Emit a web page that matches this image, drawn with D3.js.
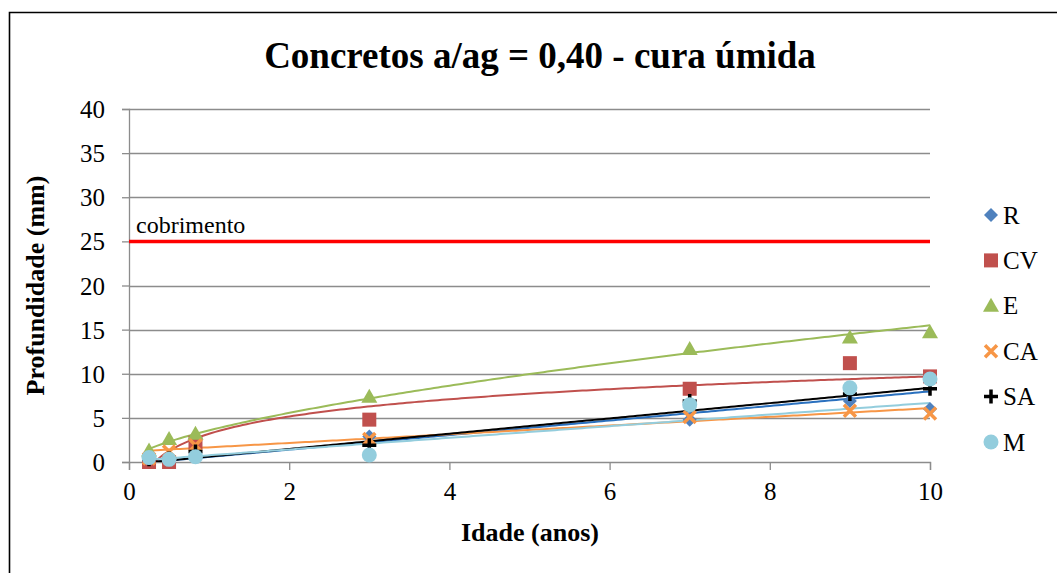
<!DOCTYPE html>
<html>
<head>
<meta charset="utf-8">
<script src="https://cdn.jsdelivr.net/npm/d3@7"></script>
<style>
  html, body { margin: 0; padding: 0; background: #fff; }
  svg { display: block; }
  text { font-family: "Liberation Serif", serif; fill: #000; }
</style>
</head>
<body>
<svg id="chart" width="1057" height="573"></svg>
<script>
// Carbonation depth (mm) per concrete, by age (years)
const idade = [0.25, 0.5, 0.83, 3, 7, 9, 10];
const seriesNames = ["R", "CV", "E", "CA", "SA", "M"];
const valR  = [0.2, 0.3, 1.0, 2.9, 4.8, 6.9, 6.0];
const valCV = [0.0, 0.0, 2.2, 4.8, 8.3, 11.2, 9.7];
const valE  = [1.3, 2.6, 3.2, 7.4, 12.8, 14.1, 14.7];
const valCA = [0.4, 1.2, 1.9, 2.6, 5.1, 5.8, 5.5];
const valSA = [0.3, 0.4, 1.2, 1.9, 6.9, 7.7, 8.3];
const valM  = [0.5, 0.3, 0.6, 0.8, 6.5, 8.4, 9.4];

// Trendline coefficients per series: [type, a, b]
// linear: y = a + b*x ; log: y = a*ln(x) + b ; power: y = a*x^b
const trendR  = ["linear", -0.25, 0.825];
const trendCV = ["log", 2.82, 3.2];
const trendE  = ["power", 3.58, 0.636];
const trendCA = ["linear", 1.17, 0.493];
const trendSA = ["linear", -0.25, 0.865];
const trendM  = ["linear", 0.1, 0.66];

const cobrimento = 25;
const xTicks = [0, 2, 4, 6, 8, 10];
const yTicks = [0, 5, 10, 15, 20, 25, 30, 35, 40];

const series = [
  { name: "R",  values: valR,  trend: trendR,  color: "#4F81BD", line: "#2A70BE", shape: "diamond" },
  { name: "CV", values: valCV, trend: trendCV, color: "#C0504D", line: "#C0504D", shape: "square" },
  { name: "E",  values: valE,  trend: trendE,  color: "#9BBB59", line: "#9BBB59", shape: "triangle" },
  { name: "CA", values: valCA, trend: trendCA, color: "#F79646", line: "#F79646", shape: "x" },
  { name: "SA", values: valSA, trend: trendSA, color: "#000000", line: "#000000", shape: "plus" },
  { name: "M",  values: valM,  trend: trendM,  color: "#93CDDD", line: "#93CDDD", shape: "circle" }
];

const FONT = '"Liberation Serif", serif';
const svg = d3.select("#chart");

// outer frame (top and left edges visible)
svg.append("path")
  .attr("d", "M9.5,573 L9.5,12.5 L1057,12.5")
  .attr("fill", "none").attr("stroke", "#000").attr("stroke-width", 1.6);

const x = d3.scaleLinear().domain([0, 10]).range([129, 930]);
const y = d3.scaleLinear().domain([0, 40]).range([462, 109]);

// title
svg.append("text")
  .attr("x", 540).attr("y", 68)
  .attr("text-anchor", "middle")
  .style("font-family", FONT)
  .style("font-size", "37px").style("font-weight", "bold")
  .text("Concretos a/ag = 0,40 - cura úmida");

// horizontal gridlines
svg.append("g").selectAll("line")
  .data(yTicks.filter(d => d > 0))
  .join("line")
  .attr("x1", x(0)).attr("x2", x(10))
  .attr("y1", d => Math.round(y(d)) + 0.5).attr("y2", d => Math.round(y(d)) + 0.5)
  .attr("stroke", "#8C8C8C").attr("stroke-width", 1.3);

// y axis
const yAxis = svg.append("g")
  .attr("transform", `translate(${x(0)},0)`)
  .call(d3.axisLeft(y).tickValues(yTicks).tickSize(7).tickPadding(17).tickFormat(d3.format("d")));
yAxis.select(".domain").attr("stroke", "#8C8C8C").attr("stroke-width", 1.3);
yAxis.selectAll(".tick line").attr("stroke", "#8C8C8C").attr("stroke-width", 1.3);
yAxis.selectAll(".tick text")
  .style("font-size", "25px").style("font-family", FONT)
  .attr("fill", "#000").attr("dy", "0.34em");

// x axis
const xAxis = svg.append("g")
  .attr("transform", `translate(0,${y(0)})`)
  .call(d3.axisBottom(x).tickValues(xTicks).tickSize(8).tickPadding(12).tickFormat(d3.format("d")));
xAxis.select(".domain").attr("stroke", "#8C8C8C").attr("stroke-width", 1.3);
xAxis.selectAll(".tick line").attr("stroke", "#8C8C8C").attr("stroke-width", 1.3);
xAxis.selectAll(".tick text")
  .style("font-size", "25px").style("font-family", FONT)
  .attr("fill", "#000").attr("dy", "0.71em");

// axis titles
svg.append("text")
  .attr("x", 530).attr("y", 541)
  .attr("text-anchor", "middle")
  .style("font-family", FONT)
  .style("font-size", "26px").style("font-weight", "bold")
  .text("Idade (anos)");
svg.append("text")
  .attr("transform", `translate(44,${(y(0) + y(40)) / 2}) rotate(-90)`)
  .attr("text-anchor", "middle")
  .style("font-family", FONT)
  .style("font-size", "26px").style("font-weight", "bold")
  .text("Profundidade (mm)");

// cover depth reference line
svg.append("line")
  .attr("x1", x(0)).attr("x2", x(10))
  .attr("y1", y(cobrimento)).attr("y2", y(cobrimento))
  .attr("stroke", "#FF0000").attr("stroke-width", 3.5);
svg.append("text")
  .attr("x", 136).attr("y", y(cobrimento) - 8)
  .style("font-family", FONT)
  .style("font-size", "24px")
  .text("cobrimento");

// clip for trendlines
svg.append("defs").append("clipPath").attr("id", "plotClip")
  .append("rect").attr("x", x(0)).attr("y", y(40)).attr("width", x(10) - x(0)).attr("height", y(0) - y(40));

function trendValue(t, xv) {
  const [type, a, b] = t;
  if (type === "linear") return a + b * xv;
  if (type === "log") return a * Math.log(xv) + b;
  return a * Math.pow(xv, b);
}

const xMin = d3.min(idade), xMax = d3.max(idade);
const samples = d3.range(0, 201).map(i => xMin + (xMax - xMin) * i / 200);
const lineGen = d3.line().x(d => x(d[0])).y(d => y(d[1]));

const trendG = svg.append("g").attr("clip-path", "url(#plotClip)");
series.forEach(s => {
  trendG.append("path")
    .datum(samples.map(xv => [xv, trendValue(s.trend, xv)]))
    .attr("d", lineGen)
    .attr("fill", "none")
    .attr("stroke", s.line)
    .attr("stroke-width", 2);
});

// marker drawing
function drawMarker(g, shape, color, cx, cy) {
  if (shape === "diamond") {
    g.append("path").attr("d", `M${cx},${cy - 7} L${cx + 7},${cy} L${cx},${cy + 7} L${cx - 7},${cy} Z`).attr("fill", color);
  } else if (shape === "square") {
    g.append("rect").attr("x", cx - 7).attr("y", cy - 7).attr("width", 14).attr("height", 14).attr("fill", color);
  } else if (shape === "triangle") {
    g.append("path").attr("d", `M${cx},${cy - 8} L${cx + 8},${cy + 6} L${cx - 8},${cy + 6} Z`).attr("fill", color);
  } else if (shape === "x") {
    g.append("path").attr("d", `M${cx - 6},${cy - 6} L${cx + 6},${cy + 6} M${cx + 6},${cy - 6} L${cx - 6},${cy + 6}`)
      .attr("stroke", color).attr("stroke-width", 3.5).attr("fill", "none");
  } else if (shape === "plus") {
    g.append("path").attr("d", `M${cx - 7},${cy} L${cx + 7},${cy} M${cx},${cy - 7} L${cx},${cy + 7}`)
      .attr("stroke", color).attr("stroke-width", 3.5).attr("fill", "none");
  } else {
    g.append("circle").attr("cx", cx).attr("cy", cy).attr("r", 7.5).attr("fill", color);
  }
}

const markG = svg.append("g");
series.forEach(s => {
  s.values.forEach((v, i) => drawMarker(markG, s.shape, s.color, x(idade[i]), y(v)));
});

// legend
const legendY = d3.scalePoint().domain(seriesNames).range([215, 442]);
const legG = svg.append("g");
series.forEach(s => {
  const cy = legendY(s.name);
  drawMarker(legG, s.shape, s.color, 991, cy);
  legG.append("text")
    .attr("x", 1003).attr("y", cy + 8.5)
    .style("font-family", FONT)
    .style("font-size", "25px")
    .text(s.name);
});
</script>
</body>
</html>
